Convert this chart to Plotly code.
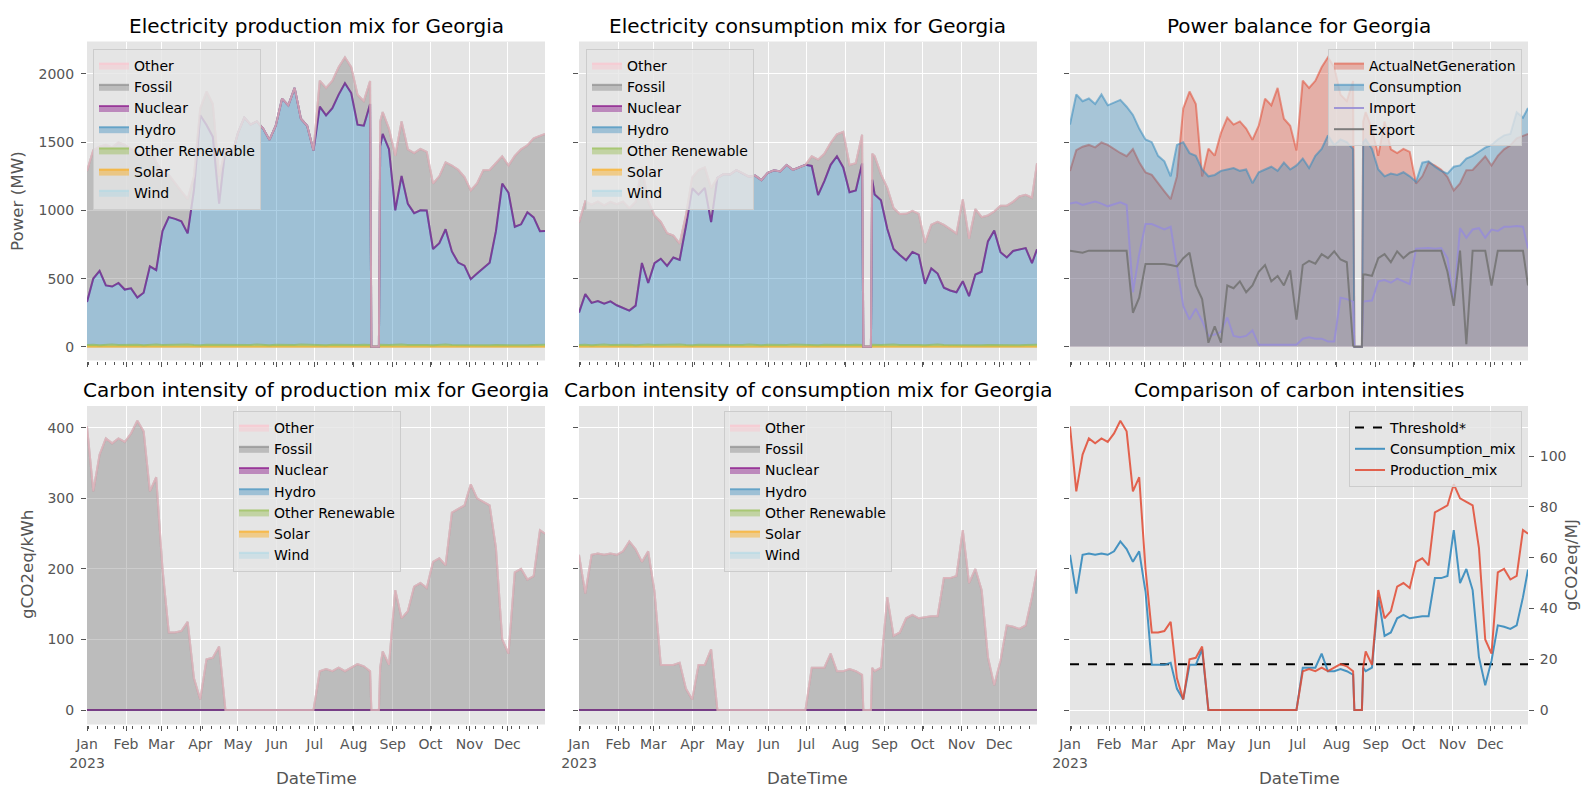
''' Georgia electricity mix and carbon intensity 2023, 2x3 panel chart '''
import pandas as pd
import plotly.graph_objects as go

# day offsets from 2023-01-01 of the sampled points
days = [0, 5, 10, 15, 20, 25, 30, 35, 40, 45, 50, 55, 60, 65, 70, 75, 80, 85, 90, 95,
        100, 105, 110, 115, 120, 125, 130, 135, 140, 145, 150, 155, 160, 165, 170, 175,
        180, 185, 190, 195, 200, 205, 210, 215, 220, 225, 226, 232, 233, 235, 240, 245,
        250, 255, 260, 265, 270, 275, 280, 285, 290, 295, 300, 305, 310, 315, 320, 325,
        330, 335, 340, 345, 350, 355, 360, 364]

# production mix (MW)
prod_hydro = [315, 485, 545, 435, 425, 455, 405, 415, 345, 385,
              575, 545, 835, 935, 925, 905, 815, 1135, 1685, 1610,
              1525, 1035, 1435, 1385, 1555, 1665, 1615, 1635, 1585, 1505,
              1605, 1805, 1755, 1885, 1655, 1605, 1425, 1745, 1685, 1735,
              1835, 1915, 1845, 1615, 1605, 1765, 0, 0, 1455, 1545,
              1435, 985, 1235, 1035, 965, 985, 985, 705, 745, 845,
              685, 605, 585, 485, 525, 565, 605, 835, 1185, 1115,
              865, 885, 975, 935, 835, 835]
prod_fossil = [960, 940, 910, 1030, 1020, 1030, 1060, 1020, 1060, 1000,
               860, 790, 430, 310, 260, 220, 250, 100, 50, 245,
               240, 200, 0, 0, 0, 0, 0, 0, 0, 0,
               0, 0, 0, 0, 0, 0, 0, 190, 200, 200,
               200, 190, 190, 220, 180, 170, 0, 0, 180, 160,
               150, 400, 400, 400, 440, 450, 430, 480, 490, 490,
               630, 680, 650, 650, 660, 720, 680, 500, 200, 200,
               520, 550, 490, 580, 700, 710]
prod_other_ren = [14, 16, 12, 15, 17, 13, 15, 14, 16, 12,
                  15, 18, 14, 16, 13, 15, 17, 14, 12, 16,
                  15, 14, 18, 16, 13, 15, 14, 17, 15, 12,
                  16, 14, 15, 13, 17, 15, 14, 16, 12, 15,
                  14, 17, 15, 13, 16, 14, 0, 0, 15, 16,
                  14, 15, 17, 13, 15, 16, 14, 12, 15, 17,
                  14, 13, 10, 11, 12, 10, 11, 13, 12, 14,
                  15, 13, 12, 14, 13, 15]

# consumption mix (MW)
cons_hydro = [237, 370, 310, 320, 300, 320, 290, 270, 250, 290,
              600, 450, 600, 630, 580, 640, 620, 870, 1150, 1100,
              1150, 900, 1220, 1250, 1250, 1280, 1260, 1230, 1240, 1210,
              1260, 1280, 1270, 1320, 1280, 1300, 1320, 1310, 1100, 1200,
              1320, 1380, 1300, 1120, 1130, 1330, 0, 0, 1210, 1100,
              1060, 850, 700, 660, 620, 680, 660, 450, 560, 520,
              420, 400, 390, 470, 360, 520, 540, 760, 840, 680,
              640, 690, 700, 710, 600, 700]
cons_fossil = [660, 680, 720, 730, 720, 730, 740, 780, 750, 760,
               700, 600, 350, 270, 240, 160, 120, 80, 80, 180,
               150, 250, 0, 0, 0, 0, 0, 0, 0, 0,
               0, 0, 0, 0, 0, 0, 0, 70, 260, 200,
               160, 160, 260, 200, 200, 210, 0, 0, 190, 280,
               190, 300, 300, 300, 340, 300, 300, 300, 320, 380,
               460, 450, 430, 600, 420, 480, 400, 190, 140, 340,
               380, 360, 390, 390, 480, 630]

# power balance (MW)
consumption = [1630, 1850, 1800, 1820, 1780, 1850, 1770, 1790, 1810, 1760,
               1700, 1600, 1520, 1500, 1400, 1360, 1250, 1480, 1500, 1420,
               1400, 1300, 1250, 1260, 1290, 1300, 1310, 1290, 1300, 1200,
               1280, 1300, 1320, 1290, 1350, 1300, 1330, 1380, 1310, 1400,
               1450, 1550, 1480, 1520, 1500, 1450, 0, 0, 1500, 1520,
               1450, 1300, 1250, 1270, 1260, 1280, 1250, 1210, 1350, 1360,
               1320, 1290, 1270, 1320, 1330, 1380, 1400, 1430, 1460, 1480,
               1520, 1550, 1560, 1720, 1680, 1750]
imports = [1050, 1060, 1040, 1055, 1065, 1050, 1030, 1045, 1060, 1040,
           400, 680, 900, 900, 880, 860, 880, 600, 300, 200,
           280, 190, 80, 90, 110, 215, 80, 70, 80, 120,
           15, 15, 15, 15, 15, 15, 15, 60, 70, 60,
           60, 40, 40, 360, 350, 330, 0, 0, 330, 335,
           340, 480, 490, 470, 500, 480, 460, 720, 725, 725,
           720, 725, 650, 330, 870, 800, 860, 870, 800, 860,
           850, 880, 880, 885, 880, 720]
exports = [705, 700, 690, 705, 705, 705, 705, 700, 705, 705,
           250, 360, 608, 608, 608, 608, 600, 590, 650, 690,
           450, 350, 30, 150, 30, 450, 430, 480, 400, 450,
           550, 600, 480, 520, 450, 560, 200, 600, 630, 610,
           680, 650, 700, 640, 620, 10, 0, 0, 530, 530,
           520, 650, 680, 620, 700, 650, 690, 705, 705, 705,
           705, 705, 550, 300, 705, 20, 705, 705, 705, 450,
           705, 705, 705, 705, 705, 450]

# carbon intensity (gCO2eq/kWh)
prod_ci = [402, 310, 362, 385, 378, 385, 380, 392, 410, 395,
           310, 330, 200, 110, 110, 112, 125, 45, 15, 72,
           74, 90, 0, 0, 0, 0, 0, 0, 0, 0,
           0, 0, 0, 0, 0, 0, 0, 55, 58, 55,
           60, 55, 60, 65, 62, 55, 0, 0, 60, 83,
           64, 170, 130, 140, 175, 180, 173, 210, 215, 205,
           280, 285, 290, 320, 300, 295, 290, 230, 100, 80,
           195, 200, 185, 190, 255, 250]
cons_ci = [220, 165, 220, 222, 220, 222, 220, 225, 239, 228,
           210, 225, 168, 64, 64, 64, 67, 30, 15, 64,
           64, 86, 0, 0, 0, 0, 0, 0, 0, 0,
           0, 0, 0, 0, 0, 0, 0, 60, 60, 60,
           80, 55, 55, 58, 55, 50, 0, 0, 60, 55,
           60, 160, 105, 110, 130, 135, 130, 132, 133, 133,
           187, 187, 190, 255, 180, 200, 170, 75, 35, 70,
           120, 118, 115, 120, 160, 199]

threshold_mj = 18
month_labels = ['Jan<br>2023', 'Feb', 'Mar', 'Apr', 'May', 'Jun',
                'Jul', 'Aug', 'Sep', 'Oct', 'Nov', 'Dec']

dates = pd.Timestamp('2023-01-01') + pd.to_timedelta(days, unit='D')
zeros = [0] * len(days)
net_generation = [h + f + r for h, f, r in zip(prod_hydro, prod_fossil, prod_other_ren)]

W, H = 1589, 790
FONT = 'DejaVu Sans'
TICK = '#555555'

mix_colors = {
    'Wind': (173, 216, 230), 'Solar': (255, 165, 0),
    'Other Renewable': (142, 186, 66), 'Hydro': (52, 138, 189),
    'Nuclear': (128, 0, 128), 'Fossil': (128, 128, 128),
    'Other': (255, 192, 203),
}


def rgba(c, a):
    return 'rgba(%d,%d,%d,%.2f)' % (c[0], c[1], c[2], a)


def px_x(v):
    return v / W


def px_y(v):
    return 1 - v / H


fig = go.Figure()


def add_mix(series, n, legend):
    ''' stacked area in matplotlib/pandas look, bottom to top '''
    for name in ['Wind', 'Solar', 'Other Renewable', 'Hydro', 'Nuclear', 'Fossil', 'Other']:
        col = mix_colors[name]
        fig.add_trace(go.Scatter(
            x=dates, y=series.get(name, zeros), name=name, mode='lines',
            stackgroup='s%d' % n, line=dict(color=rgba(col, 0.6), width=2),
            fillcolor=rgba(col, 0.4), xaxis='x%d' % n, yaxis='y%d' % n,
            legend=legend))


add_mix({'Other Renewable': prod_other_ren, 'Hydro': prod_hydro,
         'Fossil': prod_fossil}, 1, 'legend')
add_mix({'Other Renewable': prod_other_ren, 'Hydro': cons_hydro,
         'Fossil': cons_fossil}, 2, 'legend2')

# power balance
fig.add_trace(go.Scatter(x=dates, y=net_generation, name='ActualNetGeneration',
                         mode='lines', fill='tozeroy',
                         line=dict(color=rgba((226, 74, 51), 0.55), width=2),
                         fillcolor=rgba((226, 74, 51), 0.35),
                         xaxis='x3', yaxis='y3', legend='legend3'))
fig.add_trace(go.Scatter(x=dates, y=consumption, name='Consumption',
                         mode='lines', fill='tozeroy',
                         line=dict(color=rgba((52, 138, 189), 0.55), width=2),
                         fillcolor=rgba((52, 138, 189), 0.35),
                         xaxis='x3', yaxis='y3', legend='legend3'))
fig.add_trace(go.Scatter(x=dates, y=imports, name='Import', mode='lines',
                         line=dict(color=rgba((152, 142, 213), 0.9), width=2),
                         xaxis='x3', yaxis='y3', legend='legend3'))
fig.add_trace(go.Scatter(x=dates, y=exports, name='Export', mode='lines',
                         line=dict(color=rgba((119, 119, 119), 0.95), width=2),
                         xaxis='x3', yaxis='y3', legend='legend3'))

add_mix({'Fossil': prod_ci}, 4, 'legend4')
add_mix({'Fossil': cons_ci}, 5, 'legend5')

# empty trace so the left axis of the comparison panel owns a subplot
fig.add_trace(go.Scatter(x=dates[:1], y=[0], mode='none', showlegend=False,
                         xaxis='x6', yaxis='y6'))

# comparison in gCO2eq/MJ
fig.add_trace(go.Scatter(x=dates, y=[threshold_mj] * len(days), name='Threshold*',
                         mode='lines', line=dict(color='black', width=2, dash='dash'),
                         xaxis='x6', yaxis='y7', legend='legend6'))
fig.add_trace(go.Scatter(x=dates, y=[v / 3.6 for v in cons_ci], name='Consumption_mix',
                         mode='lines', line=dict(color=rgba((52, 138, 189), 0.9), width=2),
                         xaxis='x6', yaxis='y7', legend='legend6'))
fig.add_trace(go.Scatter(x=dates, y=[v / 3.6 for v in prod_ci], name='Production_mix',
                         mode='lines', line=dict(color=rgba((226, 74, 51), 0.85), width=2),
                         xaxis='x6', yaxis='y7', legend='legend6'))

cols = [(79, 537), (571, 1029), (1062, 1520)]
rows = [(33.5, 352.5), (398, 716.5)]
month_ticks = [d.strftime('%Y-%m-%d') for d in pd.date_range('2023-01-01', '2023-12-01', freq='MS')]

layout = dict(
    width=W, height=H, margin=dict(l=0, r=0, t=0, b=0, autoexpand=False),
    paper_bgcolor='white', plot_bgcolor='#E5E5E5',
    font=dict(family=FONT, size=14, color='black'), hovermode=False,
)

for i in range(6):
    n = i + 1
    c0, c1 = cols[i % 3]
    r0, r1 = rows[i // 3]
    layout['xaxis%d' % n] = dict(
        domain=[px_x(c0), px_x(c1)], anchor='y%d' % n, type='date',
        range=['2023-01-01', '2023-12-31'], tickmode='array',
        tickvals=month_ticks, ticktext=month_labels, showticklabels=(i >= 3),
        ticks='outside', ticklen=5, tickwidth=1, tickcolor=TICK,
        ticklabelstandoff=2, tickfont=dict(size=14, color=TICK),
        showgrid=True, gridcolor='white', gridwidth=1, zeroline=False,
        showline=False, automargin=False,
        minor=dict(ticks='outside', ticklen=3, tickwidth=1, tickcolor=TICK,
                   tickmode='linear', tick0='2023-01-02', dtick=7 * 86400000,
                   showgrid=False))
    if i < 3:
        yr, yt = [-100, 2238], [0, 500, 1000, 1500, 2000]
    else:
        yr, yt = [-20.5, 431], [0, 100, 200, 300, 400]
    layout['yaxis%d' % n] = dict(
        domain=[px_y(r1), px_y(r0)], anchor='x%d' % n, range=yr,
        tickmode='array', tickvals=yt, showticklabels=(i % 3 == 0),
        ticks='outside', ticklen=5, tickwidth=1, tickcolor=TICK,
        ticklabelstandoff=4, tickfont=dict(size=14, color=TICK),
        gridcolor='white', gridwidth=1, zeroline=False, showline=False,
        automargin=False)

r0, r1 = rows[1]
layout['yaxis7'] = dict(
    overlaying='y6', side='right', anchor='x6', domain=[px_y(r1), px_y(r0)],
    range=[-5.7, 119.7], tickmode='array', tickvals=[0, 20, 40, 60, 80, 100, 120],
    ticks='outside', ticklen=5, tickwidth=1, tickcolor=TICK, ticklabelstandoff=3,
    tickfont=dict(size=14, color=TICK), showgrid=False, zeroline=False,
    showline=False, automargin=False)

leg = dict(bgcolor='rgba(229,229,229,0.8)', bordercolor='#CCCCCC', borderwidth=1,
           font=dict(family=FONT, size=14, color='black'), yanchor='top')
layout['legend'] = dict(leg, x=px_x(85), y=px_y(41), xanchor='left', traceorder='reversed')
layout['legend2'] = dict(leg, x=px_x(578), y=px_y(41), xanchor='left', traceorder='reversed')
layout['legend3'] = dict(leg, x=px_x(1514), y=px_y(41), xanchor='right', traceorder='normal')
layout['legend4'] = dict(leg, x=px_x(309), y=px_y(403), xanchor='center', traceorder='reversed')
layout['legend5'] = dict(leg, x=px_x(800), y=px_y(403), xanchor='center', traceorder='reversed')
layout['legend6'] = dict(leg, x=px_x(1514), y=px_y(403), xanchor='right', traceorder='normal')

titles = ['Electricity production mix for Georgia', 'Electricity consumption mix for Georgia',
          'Power balance for Georgia', 'Carbon intensity of production mix for Georgia',
          'Carbon intensity of consumption mix for Georgia', 'Comparison of carbon intensities']
annotations = []
for i, t in enumerate(titles):
    c0, c1 = cols[i % 3]
    ty = 18 if i < 3 else 382
    annotations.append(dict(text=t, x=px_x((c0 + c1) / 2), y=px_y(ty), xref='paper',
                            yref='paper', showarrow=False, xanchor='center',
                            yanchor='middle', font=dict(size=20, color='black')))
for c0, c1 in cols:
    annotations.append(dict(text='DateTime', x=px_x((c0 + c1) / 2), y=px_y(770),
                            xref='paper', yref='paper', showarrow=False,
                            xanchor='center', yanchor='middle',
                            font=dict(size=16.7, color=TICK)))
# rotated axis labels (placed a bit left of the wanted centre, plotly shifts rotated text)
for text, xp, yp in [('Power (MW)', 9, 193), ('gCO2eq/kWh', 19, 557),
                     ('gCO2eq/MJ', 1563, 557)]:
    annotations.append(dict(text=text, x=px_x(xp), y=px_y(yp), xref='paper',
                            yref='paper', showarrow=False, textangle=-90,
                            xanchor='center', yanchor='middle',
                            font=dict(size=16.7, color=TICK)))
layout['annotations'] = annotations

fig.update_layout(**layout)
fig.write_html('out.html')
